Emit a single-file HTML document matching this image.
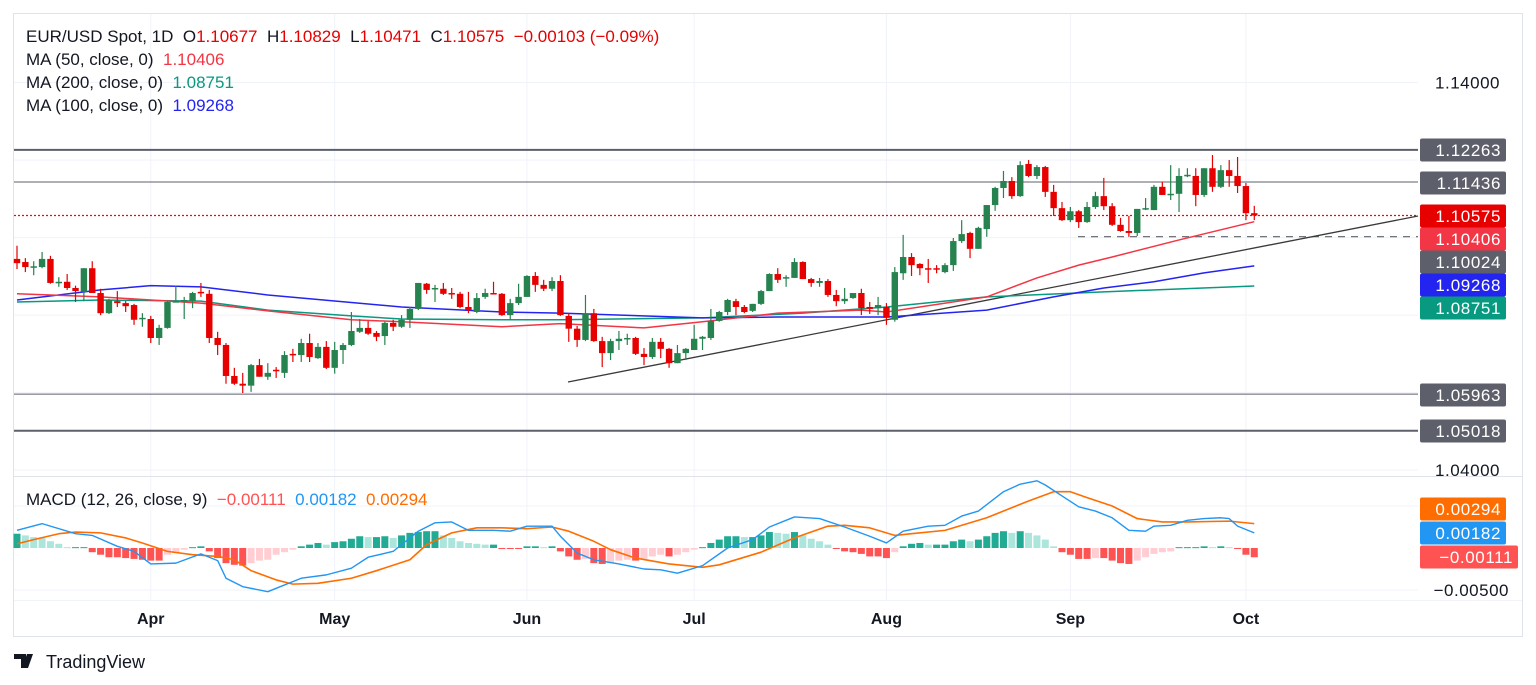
<!DOCTYPE html>
<html><head><meta charset="utf-8"><style>
html,body{margin:0;padding:0;background:#fff;width:1536px;height:685px;overflow:hidden;font-family:"Liberation Sans",sans-serif}
svg{position:absolute;left:0;top:0}
text{font-family:"Liberation Sans",sans-serif}
</style></head><body>
<svg id="c" width="1536" height="685" xmlns="http://www.w3.org/2000/svg"></svg>
<script>
const opens=[1.0945,1.0937,1.0924,1.0924,1.0945,1.0883,1.0886,1.0870,1.0860,1.0921,1.0857,1.0805,1.0836,1.0831,1.0826,1.0790,1.0790,1.0741,1.0767,1.0834,1.0836,1.0836,1.0860,1.0855,1.0741,1.0723,1.0643,1.0623,1.0618,1.0671,1.0641,1.0659,1.0651,1.0700,1.0697,1.0728,1.0689,1.0718,1.0664,1.0710,1.0723,1.0757,1.0767,1.0754,1.0746,1.0780,1.0770,1.0788,1.0816,1.0881,1.0868,1.0868,1.0857,1.0855,1.0821,1.0808,1.0847,1.0857,1.0855,1.0800,1.0831,1.0847,1.0901,1.0878,1.0868,1.0888,1.0798,1.0765,1.0736,1.0805,1.0733,1.0702,1.0733,1.0739,1.0741,1.0700,1.0692,1.0731,1.0713,1.0676,1.0702,1.0710,1.0739,1.0741,1.0785,1.0808,1.0836,1.0821,1.0811,1.0829,1.0862,1.0906,1.0896,1.0896,1.0937,1.0893,1.0883,1.0888,1.0852,1.0836,1.0844,1.0857,1.0821,1.0818,1.0821,1.0788,1.0908,1.0950,1.0932,1.0921,1.0921,1.0911,1.0929,1.0991,1.1012,1.0971,1.1022,1.1084,1.1128,1.1146,1.1107,1.1190,1.1159,1.1182,1.1118,1.1076,1.1045,1.1068,1.1040,1.1079,1.1107,1.1081,1.1033,1.1017,1.1012,1.1074,1.1071,1.1131,1.1110,1.1113,1.1159,1.1159,1.1110,1.1179,1.1131,1.1174,1.1159,1.1133,1.1063];
const highs=[1.0979,1.0947,1.0939,1.0963,1.0953,1.0898,1.0906,1.0876,1.0921,1.0939,1.0868,1.0842,1.0862,1.0836,1.0829,1.0805,1.0798,1.0775,1.0836,1.0876,1.0847,1.0860,1.0883,1.0865,1.0757,1.0728,1.0664,1.0651,1.0674,1.0687,1.0676,1.0666,1.0707,1.0713,1.0739,1.0752,1.0728,1.0733,1.0731,1.0728,1.0808,1.0790,1.0785,1.0759,1.0783,1.0788,1.0800,1.0821,1.0883,1.0883,1.0878,1.0883,1.0870,1.0860,1.0860,1.0857,1.0868,1.0886,1.0857,1.0842,1.0881,1.0903,1.0911,1.0891,1.0898,1.0903,1.0805,1.0772,1.0852,1.0816,1.0744,1.0739,1.0759,1.0752,1.0744,1.0715,1.0741,1.0741,1.0715,1.0723,1.0715,1.0775,1.0746,1.0816,1.0811,1.0842,1.0842,1.0826,1.0829,1.0865,1.0908,1.0921,1.0903,1.0947,1.0939,1.0896,1.0896,1.0893,1.0865,1.0870,1.0857,1.0868,1.0834,1.0847,1.0831,1.0924,1.1007,1.0960,1.0934,1.0945,1.0929,1.0934,1.0999,1.1045,1.1015,1.1028,1.1084,1.1131,1.1172,1.1156,1.1197,1.1200,1.1187,1.1185,1.1136,1.1092,1.1079,1.1071,1.1092,1.1118,1.1154,1.1089,1.1051,1.1056,1.1074,1.1102,1.1136,1.1144,1.1187,1.1179,1.1179,1.1179,1.1179,1.1213,1.1187,1.1200,1.1208,1.1141,1.1082];
const lows=[1.0919,1.0911,1.0903,1.0921,1.0881,1.0873,1.0865,1.0834,1.0836,1.0857,1.0800,1.0803,1.0821,1.0808,1.0775,1.0770,1.0728,1.0723,1.0765,1.0834,1.0790,1.0818,1.0847,1.0728,1.0697,1.0623,1.0620,1.0599,1.0602,1.0641,1.0633,1.0638,1.0638,1.0679,1.0679,1.0679,1.0687,1.0661,1.0649,1.0674,1.0720,1.0754,1.0749,1.0733,1.0723,1.0759,1.0767,1.0767,1.0813,1.0855,1.0834,1.0852,1.0842,1.0818,1.0805,1.0805,1.0842,1.0855,1.0798,1.0788,1.0826,1.0847,1.0860,1.0862,1.0862,1.0798,1.0731,1.0718,1.0733,1.0731,1.0666,1.0684,1.0710,1.0723,1.0697,1.0671,1.0687,1.0689,1.0664,1.0676,1.0684,1.0710,1.0710,1.0736,1.0783,1.0800,1.0800,1.0805,1.0808,1.0826,1.0862,1.0883,1.0873,1.0896,1.0893,1.0873,1.0873,1.0847,1.0823,1.0829,1.0842,1.0800,1.0803,1.0800,1.0775,1.0783,1.0891,1.0901,1.0903,1.0883,1.0908,1.0908,1.0914,1.0986,1.0947,1.0971,1.1002,1.1069,1.1102,1.1100,1.1105,1.1156,1.1151,1.1105,1.1056,1.1043,1.1040,1.1025,1.1038,1.1074,1.1071,1.1030,1.1015,1.1002,1.1004,1.1071,1.1071,1.1110,1.1097,1.1066,1.1156,1.1081,1.1105,1.1118,1.1128,1.1131,1.1115,1.1045,1.1045];
const closes=[1.0934,1.0924,1.0926,1.0945,1.0883,1.0886,1.0870,1.0862,1.0921,1.0857,1.0805,1.0839,1.0831,1.0823,1.0788,1.0793,1.0741,1.0767,1.0834,1.0836,1.0839,1.0857,1.0857,1.0741,1.0723,1.0643,1.0623,1.0618,1.0671,1.0641,1.0651,1.0656,1.0697,1.0697,1.0728,1.0692,1.0718,1.0664,1.0710,1.0723,1.0759,1.0767,1.0752,1.0744,1.0780,1.0770,1.0788,1.0816,1.0883,1.0865,1.0870,1.0855,1.0855,1.0821,1.0813,1.0844,1.0857,1.0855,1.0800,1.0831,1.0847,1.0901,1.0878,1.0868,1.0888,1.0800,1.0765,1.0736,1.0805,1.0733,1.0702,1.0733,1.0739,1.0741,1.0700,1.0692,1.0731,1.0713,1.0676,1.0702,1.0713,1.0739,1.0744,1.0785,1.0808,1.0839,1.0821,1.0808,1.0829,1.0862,1.0906,1.0891,1.0898,1.0937,1.0893,1.0883,1.0888,1.0852,1.0836,1.0842,1.0857,1.0818,1.0816,1.0826,1.0793,1.0911,1.0950,1.0929,1.0921,1.0919,1.0919,1.0929,1.0991,1.1009,1.0971,1.1025,1.1084,1.1128,1.1146,1.1107,1.1187,1.1159,1.1182,1.1118,1.1076,1.1045,1.1068,1.1040,1.1079,1.1107,1.1081,1.1033,1.1017,1.1012,1.1074,1.1076,1.1131,1.1110,1.1113,1.1159,1.1162,1.1110,1.1179,1.1131,1.1174,1.1159,1.1133,1.1063,1.1057];
const ma50Idx=[0,10,22,30,40,46,58,65,75,82,91,101,104,116,122,127,131,139,148];
const ma50Vals=[1.0855,1.0847,1.0831,1.0811,1.0788,1.0783,1.0770,1.0778,1.0767,1.0783,1.0805,1.0813,1.0808,1.0847,1.0896,1.0929,1.0950,1.0994,1.1041];
const ma100Idx=[0,10,16,22,30,46,58,65,82,91,104,116,124,130,136,142,148];
const ma100Vals=[1.0839,1.0865,1.0876,1.0873,1.0852,1.0821,1.0808,1.0805,1.0793,1.0795,1.0795,1.0813,1.0847,1.0870,1.0886,1.0909,1.0927];
const ma200Idx=[0,10,22,30,40,46,58,65,82,94,104,116,130,148];
const ma200Vals=[1.0834,1.0839,1.0836,1.0813,1.0798,1.0790,1.0788,1.0788,1.0793,1.0805,1.0821,1.0847,1.0860,1.0875];
const macdIdx=[0,3,7,9,12,14,16,19,22,24,25,27,30,31,34,37,40,42,45,48,50,52,54,57,59,61,64,65,67,69,72,75,77,79,80,82,85,88,90,93,96,99,102,104,106,109,111,113,115,118,120,122,123,125,127,129,131,133,135,136,138,140,142,144,145,146,148];
const macdVals=[0.0021,0.0029,0.0017,0.0015,0.0002,-0.0004,-0.0019,-0.0018,-0.0007,-0.0015,-0.0036,-0.0046,-0.0052,-0.0048,-0.0036,-0.0032,-0.0024,-0.0011,-0.0004,0.0020,0.0030,0.0031,0.0021,0.0021,0.0020,0.0026,0.0026,0.0014,-0.0006,-0.0014,-0.0019,-0.0025,-0.0026,-0.0030,-0.0027,-0.0021,0.0000,0.0010,0.0025,0.0037,0.0035,0.0025,0.0014,0.0006,0.0020,0.0026,0.0027,0.0038,0.0044,0.0067,0.0076,0.0080,0.0075,0.0062,0.0049,0.0044,0.0036,0.0021,0.0020,0.0026,0.0027,0.0033,0.0035,0.0036,0.0035,0.0026,0.0018];
const sigIdx=[0,2,5,7,10,13,15,18,21,24,26,28,31,33,36,40,43,47,49,52,55,58,61,64,66,69,71,74,78,82,84,89,93,97,99,102,105,107,111,116,121,124,126,128,131,134,137,140,145,148];
const sigVals=[0.0005,0.0010,0.0017,0.0019,0.0018,0.0012,0.0006,-0.0004,-0.0008,-0.0010,-0.0014,-0.0027,-0.0038,-0.0043,-0.0042,-0.0036,-0.0027,-0.0014,0.0004,0.0018,0.0024,0.0024,0.0023,0.0025,0.0020,0.0008,-0.0002,-0.0012,-0.0019,-0.0023,-0.0020,-0.0005,0.0012,0.0026,0.0027,0.0024,0.0015,0.0017,0.0021,0.0036,0.0056,0.0067,0.0067,0.0060,0.0050,0.0035,0.0031,0.0031,0.0032,0.0029];
const histVals=[0.0017,0.0015,0.0013,0.0012,0.0008,0.0005,0.0001,0.0001,0.0001,-0.0005,-0.0008,-0.0011,-0.0011,-0.0012,-0.0013,-0.0014,-0.0015,-0.0015,-0.0008,-0.0006,-0.0002,0.0001,0.0002,-0.0004,-0.0012,-0.0018,-0.0020,-0.0021,-0.0018,-0.0015,-0.0014,-0.0008,-0.0005,-0.0002,0.0002,0.0004,0.0006,0.0004,0.0007,0.0008,0.0011,0.0014,0.0013,0.0013,0.0014,0.0012,0.0015,0.0018,0.0019,0.0020,0.0020,0.0015,0.0012,0.0008,0.0006,0.0005,0.0004,0.0004,-0.0001,-0.0001,-0.0001,0.0002,0.0002,0.0001,0.0002,-0.0004,-0.0010,-0.0014,-0.0013,-0.0018,-0.0019,-0.0018,-0.0015,-0.0014,-0.0015,-0.0013,-0.0010,-0.0008,-0.0010,-0.0008,-0.0005,-0.0002,0.0001,0.0006,0.0010,0.0014,0.0014,0.0013,0.0013,0.0015,0.0019,0.0018,0.0017,0.0019,0.0015,0.0011,0.0008,0.0004,-0.0001,-0.0004,-0.0005,-0.0007,-0.0010,-0.0010,-0.0012,-0.0005,0.0002,0.0005,0.0006,0.0004,0.0004,0.0004,0.0008,0.0010,0.0008,0.0010,0.0014,0.0018,0.0020,0.0018,0.0020,0.0018,0.0015,0.0010,0.0002,-0.0005,-0.0008,-0.0013,-0.0013,-0.0012,-0.0012,-0.0015,-0.0018,-0.0019,-0.0015,-0.0011,-0.0007,-0.0005,-0.0004,0.0001,0.0001,0.0001,0.0002,0.0001,0.0002,0.0001,-0.0001,-0.0008,-0.0011];
const months=["Apr","May","Jun","Jul","Aug","Sep","Oct"];
const monthIdx=[16,38,61,81,104,126,147];
const levels=[1.12263,1.11436,1.05963,1.05018];
const levelW=[2,1,1,2];

const S=document.getElementById('c');
const NS='http://www.w3.org/2000/svg';
function el(t,a,p){const e=document.createElementNS(NS,t);for(const k in a)e.setAttribute(k,a[k]);(p||S).appendChild(e);return e;}
const X=i=>17+i*8.36;
const Y=p=>(1.1613-p)/0.000258;
const MY=v=>548-v*8400;
const L=14,R=1418;

const grid=el('g',{});


for(const p of [1.14,1.12,1.10,1.08,1.06,1.04]) el('line',{x1:L,x2:R,y1:Y(p),y2:Y(p),stroke:'#f0f3fa','stroke-width':1},grid);
for(const v of [0.005,-0.005]) el('line',{x1:L,x2:R,y1:MY(v),y2:MY(v),stroke:'#f0f3fa'},grid);
monthIdx.forEach(i=>el('line',{x1:X(i),x2:X(i),y1:14,y2:600,stroke:'#f0f3fa'},grid));
const fr=el('rect',{x:13.5,y:13.5,width:1509,height:623,fill:'none',stroke:'#e0e3eb'});


el('line',{x1:14,x2:1522,y1:476.5,y2:476.5,stroke:'#e0e3eb'});
el('line',{x1:14,x2:1522,y1:600.5,y2:600.5,stroke:'#f0f3fa'});

levels.forEach((p,k)=>{const l=el('line',{x1:L,x2:R,y1:Y(p),y2:Y(p),stroke:'#5d606b','stroke-width':levelW[k]});

});
const dl=el('line',{x1:1078,x2:R,y1:Y(1.10024),y2:Y(1.10024),stroke:'#5d606b','stroke-width':1.2,'stroke-dasharray':'7,6'});


const pl=el('line',{x1:L,x2:R,y1:Y(closes[closes.length-1]),y2:Y(closes[closes.length-1]),stroke:'#ff0000','stroke-width':1.2,'stroke-dasharray':'2,2'});


const tl=el('line',{x1:568,y1:382,x2:R,y2:216,stroke:'#3a3a3a','stroke-width':1.3});



function poly(idx,vals,fy,col,w,name){const pts=idx.map((i,k)=>X(i)+','+fy(vals[k])).join(' ');
const p=el('polyline',{points:pts,fill:'none',stroke:col,'stroke-width':w,'stroke-linejoin':'round'});

}
poly(ma200Idx,ma200Vals,Y,'#089981',1.5,'ma200-line');
poly(ma100Idx,ma100Vals,Y,'#2424f0',1.5,'ma100-line');
poly(ma50Idx,ma50Vals,Y,'#f23645',1.5,'ma50-line');

const cg=el('g',{});


for(let i=0;i<opens.length;i++){const up=closes[i]>=opens[i];const col=up?'#26824f':'#e60000';const x=X(i);
const w=el('line',{x1:x,x2:x,y1:Y(highs[i]),y2:Y(lows[i]),stroke:col,'stroke-width':1.2},cg);


const t=Math.min(Y(opens[i]),Y(closes[i]));const h=Math.max(1.5,Math.abs(Y(opens[i])-Y(closes[i])));
const b=el('rect',{x:x-3.2,y:t,width:6.4,height:h,fill:col},cg);

}

const hg=el('g',{});


for(let i=0;i<histVals.length;i++){const v=histVals[i],pv=i?histVals[i-1]:0;let col;
if(v>=0)col=v>=pv?'#22ab94':'#ace5dc';else col=v<=pv?'#ff5252':'#ffcdd2';
const y0=MY(0),y1=MY(v);
const r=el('rect',{x:X(i)-3.5,y:Math.min(y0,y1),width:7,height:Math.max(1,Math.abs(y1-y0)),fill:col},hg);

}
poly(sigIdx,sigVals,MY,'#ff6d00',1.6,'macd-signal-line');
poly(macdIdx,macdVals,MY,'#2196f3',1.4,'macd-line');

function txt(x,y,s,o){const t=el('text',Object.assign({x:x,y:y,'font-size':17,fill:'#131722'},o||{}));t.textContent=s;return t;}
months.forEach((m,k)=>{const t=txt(X(monthIdx[k]),624,m,{'text-anchor':'middle','font-weight':'bold','font-size':16});

});
[[1.14,'1.14000'],[1.04,'1.04000']].forEach(a=>{const t=txt(1500,Y(a[0])+6,a[1],{'text-anchor':'end','letter-spacing':'0.5'});

});
const tm=txt(1509,MY(-0.005)+6,'\u22120.00500',{'text-anchor':'end','letter-spacing':'0.5'});


function tag(y,s,col,w){const g=el('g',{});


el('rect',{x:1420,y:y-11.5,width:w||86,height:23,rx:2,fill:col},g);
const t=el('text',{x:1420+(w||86)-5,y:y+6,'font-size':17,fill:'#fff','text-anchor':'end','letter-spacing':'0.6'},g);t.textContent=s;}
tag(150,'1.12263','#5d606b');tag(183,'1.11436','#5d606b');
tag(216,'1.10575','#e60000');tag(239,'1.10406','#f23645');tag(262,'1.10024','#5d606b');
tag(285,'1.09268','#2424f0');tag(308,'1.08751','#089981');
tag(395,'1.05963','#5d606b');tag(431,'1.05018','#5d606b');
tag(509,'0.00294','#ff6d00');tag(533,'0.00182','#2196f3');tag(557,'\u22120.00111','#ff5252',98);

function leg(y,parts,name){const t=el('text',{x:26,y:y,'font-size':17,fill:'#131722'});


parts.forEach(p=>{const s=el('tspan',{fill:p[1]},t);s.textContent=p[0];});}
leg(42,[['EUR/USD Spot, 1D\u00a0\u00a0O','#131722'],['1.10677','#e60000'],['\u00a0\u00a0H','#131722'],['1.10829','#e60000'],['\u00a0\u00a0L','#131722'],['1.10471','#e60000'],['\u00a0\u00a0C','#131722'],['1.10575','#e60000'],['\u00a0\u00a0\u22120.00103 (\u22120.09%)','#e60000']],'ohlc-legend');
leg(65,[['MA (50, close, 0)\u00a0\u00a0','#131722'],['1.10406','#f23645']],'ma50-legend');
leg(88,[['MA (200, close, 0)\u00a0\u00a0','#131722'],['1.08751','#089981']],'ma200-legend');
leg(111,[['MA (100, close, 0)\u00a0\u00a0','#131722'],['1.09268','#2424f0']],'ma100-legend');
leg(505,[['MACD (12, 26, close, 9)\u00a0\u00a0','#131722'],['\u22120.00111','#ff5252'],['\u00a0\u00a00.00182','#2196f3'],['\u00a0\u00a00.00294','#ff6d00']],'macd-legend');

const lg=el('g',{});


el('path',{d:'M14 654h12v14h-5v-9h-7z M27 654h6l-5 14h-6z',fill:'#131722'},lg);
el('circle',{cx:29,cy:657,r:2.5,fill:'#131722'},lg);
const lt=el('text',{x:46,y:668,'font-size':18,fill:'#131722'},lg);lt.textContent='TradingView';
</script>
</body></html>
